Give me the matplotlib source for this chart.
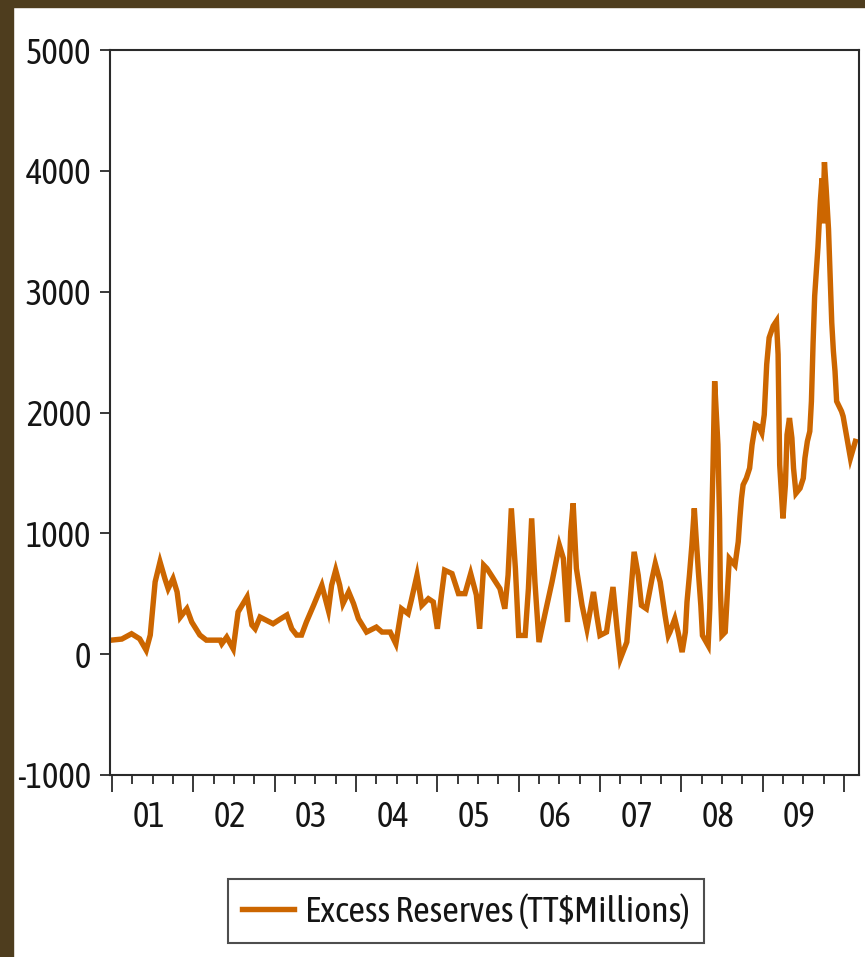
import numpy as np
import matplotlib
matplotlib.use("Agg")
import matplotlib.pyplot as plt
from matplotlib import font_manager as fm
from matplotlib.patches import Rectangle
from matplotlib.ticker import MultipleLocator, FixedLocator, NullFormatter

# Excess reserves, TT$ millions, x in fractional years
years = [
    2000.99, 2001.12, 2001.24, 2001.34, 2001.42, 2001.47, 2001.53, 2001.59, 2001.65, 2001.69,
    2001.75, 2001.80, 2001.84, 2001.92, 2001.98, 2002.08, 2002.16, 2002.33, 2002.35, 2002.41,
    2002.49, 2002.55, 2002.66, 2002.72, 2002.76, 2002.82, 2002.98, 2003.07, 2003.15, 2003.21,
    2003.27, 2003.33, 2003.39, 2003.48, 2003.58, 2003.66, 2003.70, 2003.75, 2003.80, 2003.84,
    2003.91, 2003.97, 2004.03, 2004.13, 2004.25, 2004.32, 2004.42, 2004.49, 2004.56, 2004.64,
    2004.68, 2004.75, 2004.81, 2004.89, 2004.95, 2005.00, 2005.05, 2005.09, 2005.18, 2005.26,
    2005.34, 2005.41, 2005.48, 2005.52, 2005.57, 2005.61, 2005.69, 2005.77, 2005.83, 2005.87,
    2005.91, 2005.96, 2006.00, 2006.08, 2006.12, 2006.16, 2006.20, 2006.25, 2006.32, 2006.41,
    2006.50, 2006.55, 2006.60, 2006.64, 2006.67, 2006.71, 2006.78, 2006.84, 2006.92, 2006.96,
    2007.00, 2007.08, 2007.16, 2007.21, 2007.25, 2007.33, 2007.37, 2007.42, 2007.47, 2007.51,
    2007.57, 2007.64, 2007.68, 2007.74, 2007.80, 2007.84, 2007.86, 2007.92, 2007.96, 2008.01,
    2008.05, 2008.07, 2008.10, 2008.13, 2008.16, 2008.18, 2008.21, 2008.24, 2008.26, 2008.33,
    2008.35, 2008.37, 2008.39, 2008.41, 2008.45, 2008.47, 2008.48, 2008.50, 2008.54, 2008.57,
    2008.59, 2008.66, 2008.70, 2008.72, 2008.74, 2008.76, 2008.80, 2008.84, 2008.87, 2008.91,
    2008.95, 2008.99, 2009.02, 2009.05, 2009.08, 2009.13, 2009.17, 2009.19, 2009.21, 2009.25,
    2009.28, 2009.30, 2009.33, 2009.36, 2009.38, 2009.41, 2009.46, 2009.50, 2009.52, 2009.55,
    2009.58, 2009.60, 2009.62, 2009.64, 2009.68, 2009.71, 2009.73, 2009.74, 2009.76, 2009.78,
    2009.81, 2009.83, 2009.85, 2009.87, 2009.89, 2009.91, 2009.97, 2009.99, 2010.03, 2010.08,
    2010.11, 2010.14,
]
reserves = [
    116, 125, 169, 127, 33, 158, 598, 764, 625, 542,
    625, 515, 307, 376, 266, 158, 116, 116, 86, 141,
    44, 349, 473, 241, 210, 307, 252, 291, 324, 210,
    158, 158, 266, 407, 570, 363, 570, 695, 570, 418,
    515, 418, 293, 183, 224, 183, 183, 86, 376, 335,
    446, 654, 404, 459, 432, 210, 487, 695, 667, 501,
    501, 667, 490, 210, 737, 709, 625, 542, 376, 654,
    1207, 709, 155, 155, 542, 1124, 598, 100, 321, 598,
    903, 792, 266, 1013, 1248, 709, 404, 210, 515, 321,
    155, 183, 556, 210, -39, 100, 432, 847, 654, 404,
    376, 625, 750, 598, 321, 155, 183, 293, 183, 17,
    183, 432, 654, 903, 1207, 986, 681, 404, 155, 72,
    376, 986, 1567, 2259, 1733, 1124, 542, 155, 183, 542,
    792, 737, 930, 1124, 1290, 1401, 1456, 1539, 1733, 1899,
    1885, 1830, 1982, 2398, 2619, 2716, 2757, 2481, 1567, 1124,
    1401, 1816, 1954, 1788, 1539, 1331, 1373, 1456, 1622, 1761,
    1844, 2093, 2566, 2965, 3366, 3754, 3937, 3566, 4072, 3865,
    3519, 3131, 2743, 2508, 2342, 2093, 2010, 1968, 1816, 1622,
    1692, 1761,
]
year_labels = ["01", "02", "03", "04", "05", "06", "07", "08", "09"]
y_ticks = [-1000, 0, 1000, 2000, 3000, 4000, 5000]

# pick a narrow sans if one is installed (the original uses Arial Narrow)
installed = {(f.name, f.stretch) for f in fm.fontManager.ttflist}
names = {n for n, _ in installed}
STRETCH = "normal"
if "Liberation Sans Narrow" in names:
    FONT, FS = ["Liberation Sans Narrow", "DejaVu Sans"], 26
elif any("Condensed" in n for n in names):
    FONT, FS = [sorted(n for n in names if "Condensed" in n)[0], "DejaVu Sans"], 25
elif any(n == "DejaVu Sans" and s in ("condensed", 75, "semi-condensed") for n, s in installed):
    FONT, FS, STRETCH = ["DejaVu Sans"], 22, "condensed"
else:
    FONT, FS = ["Liberation Sans", "DejaVu Sans"], 21

TXT = "#151515"
LINE = "#cc6600"

fig = plt.figure(figsize=(8.65, 9.57), dpi=100)
fig.patch.set_facecolor("white")

# brown frame strips (top and left)
fig.patches.append(Rectangle((0, 1 - 7 / 957), 1, 7 / 957, transform=fig.transFigure,
                             color="#4e3d1e", zorder=0))
fig.patches.append(Rectangle((0, 0), 13 / 865, 1, transform=fig.transFigure,
                             color="#4e3d1e", zorder=0))

ax = fig.add_axes([110 / 865, 1 - 775 / 957, 749 / 865, 725 / 957])
ax.plot(years, reserves, color=LINE, lw=3.9, solid_joinstyle="miter",
        label="Excess Reserves (TT$Millions)")

ax.set_xlim(2000.975, 2010.185)
ax.set_ylim(-1000, 5000)

for s in ax.spines.values():
    s.set_color("#2a2a2a")
    s.set_linewidth(1.5)

ax.set_yticks(y_ticks)
ax.set_yticklabels([str(v) for v in y_ticks], fontsize=FS, color=TXT, family=FONT,
                   fontstretch=STRETCH)
ax.tick_params(axis="y", direction="out", length=7.5, width=1.3, pad=6, colors="#2a2a2a",
               labelcolor=TXT)

ax.xaxis.set_major_locator(FixedLocator(np.arange(2001, 2011)))
ax.xaxis.set_minor_locator(MultipleLocator(0.25))
ax.xaxis.set_major_formatter(NullFormatter())
ax.tick_params(axis="x", which="major", direction="out", length=12, width=1.3, colors="#2a2a2a")
ax.tick_params(axis="x", which="minor", direction="out", length=6.5, width=1.3, colors="#2a2a2a")

for i, lab in enumerate(year_labels):
    ax.text(2001 + i + 0.45, -0.035, lab, transform=ax.get_xaxis_transform(),
            ha="center", va="top", fontsize=FS, color=TXT, family=FONT, fontstretch=STRETCH)

leg = fig.legend(loc="center", bbox_to_anchor=(466 / 865, 1 - 911 / 957),
                 prop={"family": FONT, "size": FS + 1, "stretch": STRETCH}, frameon=True,
                 fancybox=False, handlelength=1.45, handletextpad=0.3, borderpad=0.4,
                 borderaxespad=0)
leg.get_frame().set_edgecolor("#222222")
leg.get_frame().set_linewidth(1.5)
for t in leg.get_texts():
    t.set_color(TXT)

fig.savefig("out.png", dpi=100, facecolor="white")
